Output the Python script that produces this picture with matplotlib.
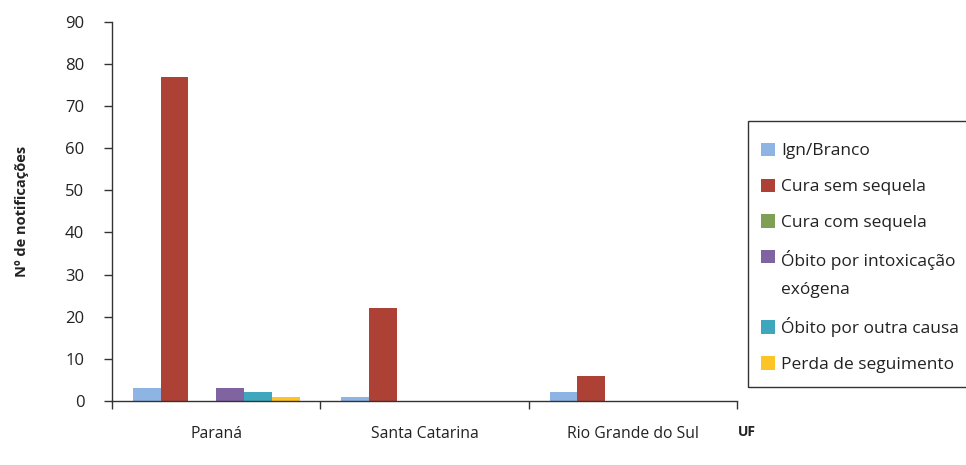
import matplotlib
matplotlib.use("Agg")
import matplotlib.pyplot as plt
from matplotlib.patches import Rectangle
from matplotlib.legend_handler import HandlerPatch
import numpy as np

plt.rcParams['font.family'] = ['Open Sans', 'DejaVu Sans']

ufs = ["Paraná", "Santa Catarina", "Rio Grande do Sul"]
series = ["Ign/Branco", "Cura sem sequela", "Cura com sequela",
          "Óbito por intoxicação\nexógena", "Óbito por outra causa", "Perda de seguimento"]
ign_branco = [3, 1, 2]
cura_sem = [77, 22, 6]
cura_com = [0, 0, 0]
obito_intox = [3, 0, 0]
obito_outra = [2, 0, 0]
perda = [1, 0, 0]
values = [ign_branco, cura_sem, cura_com, obito_intox, obito_outra, perda]
colors = ["#8db4e2", "#ad4136", "#7f9f55", "#8064a2", "#3fa7bd", "#fcc427"]

fig = plt.figure(figsize=(9.66, 4.65), dpi=100)
ax = fig.add_axes([0.116, 0.138, 0.647, 0.815])

x = np.arange(len(ufs))
w = 0.8 / len(series)
bars = []
for i, (name, vals, c) in enumerate(zip(series, values, colors)):
    b = ax.bar(x + (i - 2.5) * w, vals, w, color=c, label=name, edgecolor='none')
    bars.append(b)

ax.set_xlim(-0.5, 2.5)
ax.set_ylim(0, 90)
ax.set_yticks(range(0, 91, 10))
ax.set_xticks([-0.5, 0.5, 1.5, 2.5])
ax.set_xticklabels([])
ax.set_xticks(x, minor=True)
ax.set_xticklabels(ufs, minor=True, fontsize=11.3, color='#222222')
ax.tick_params(axis='x', which='major', direction='out', length=6, width=1, color='#333333')
ax.tick_params(axis='x', which='minor', length=0, pad=18)
ax.tick_params(axis='y', direction='out', length=6, width=1, color='#333333',
               labelsize=12, labelcolor='#222222', pad=14)

for s in ['top', 'right']:
    ax.spines[s].set_visible(False)
for s in ['left', 'bottom']:
    ax.spines[s].set_color('#333333')
    ax.spines[s].set_linewidth(1)

ax.set_ylabel("Nº de notificações", fontsize=10.5, fontweight='bold', labelpad=26, color='#222222')
fig.text(0.764, 0.071, "UF", fontsize=10, fontweight='bold', ha='left', va='center', color='#222222')

ls = 2.0


# handle of the two-line entry sits next to the first line
def shifted_patch(legend, orig_handle, xdescent, ydescent, width, height, fontsize):
    return Rectangle((-xdescent, -ydescent + 0.5 * fontsize * ls), width, height)


class FirstLineHandler(HandlerPatch):
    def __init__(self):
        super().__init__(patch_func=shifted_patch)


handler_map = {bars[3][0]: FirstLineHandler()}
handles = [b[0] for b in bars]
leg = fig.legend(handles, series, loc='upper left', bbox_to_anchor=(0.788, 0.693), fontsize=12.5,
                 frameon=False, handlelength=0.8, handleheight=0.8, handler_map=handler_map,
                 handletextpad=0.35, labelspacing=1.1, borderpad=0, borderaxespad=0)
for t in leg.get_texts():
    t.set_color('#222222')
leg.get_texts()[3].set_linespacing(ls)

frame = Rectangle((0.774, 0.168), 0.3, 0.572, transform=fig.transFigure, fill=False,
                  edgecolor='#333333', linewidth=1)
fig.patches.append(frame)

fig.savefig("out.png", dpi=100)
